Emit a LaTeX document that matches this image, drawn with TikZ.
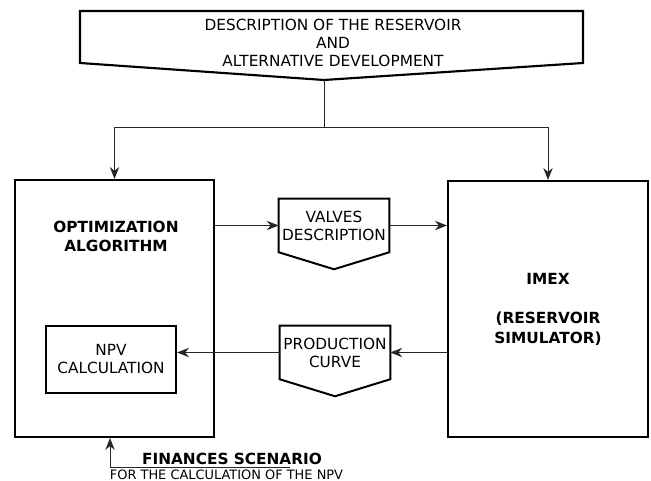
\documentclass[tikz,border=0pt]{standalone}
\usepackage{fontspec}
\setmainfont{DejaVu Sans}
\usetikzlibrary{arrows.meta,positioning,calc}

\begin{document}
\begin{tikzpicture}[
  x=0.75pt, y=-0.75pt,
  font=\fontsize{11.5}{13.5}\selectfont,
  box/.style={draw, line width=1.5pt, inner sep=0pt, align=center},
  txt/.style={align=center, inner sep=0pt},
  bold/.style={txt, font=\fontsize{11.5}{14.3}\selectfont\bfseries},
  link/.style={line width=0.75pt, black!85},
  arr/.style={link, -{Stealth[length=9pt,width=7pt]}}
]
\useasboundingbox (0,0) rectangle (651,481);

% banner on top
\draw[line width=1.6pt, line join=miter] (80,11) -- (583,11) -- (583,63) -- (324,80) -- (80,63) -- cycle;
\coordinate (tip) at (324,80);
\coordinate (split) at (324,128);
\node[txt] (desc) at (333,43) {DESCRIPTION OF THE RESERVOIR\\AND\\ALTERNATIVE DEVELOPMENT};

% main blocks
\node[box, minimum width=149.25pt, minimum height=192.75pt] (opt) at (114.5,308.5) {};
\node[bold] (optlbl) at (116,236) {OPTIMIZATION\\ALGORITHM};
\node[box, minimum width=97.5pt, minimum height=50.25pt] (npv) at (111,359.5) {NPV\\CALCULATION};
\node[box, font=\fontsize{11.5}{14.6}\selectfont\bfseries, minimum width=150pt, minimum height=192pt] (imex) at (548,309) {IMEX\\[15pt](RESERVOIR\\SIMULATOR)};

% data in between
\node[txt, minimum width=82.5pt, minimum height=39.75pt] (valves) at (334,225.5) {VALVES\\DESCRIPTION};
\draw[line width=1.5pt] (valves.north west) -- (valves.north east) -- (valves.south east) -- ($(valves.south)+(0,17)$) -- (valves.south west) -- cycle;
\node[txt, minimum width=82.5pt, minimum height=39.75pt] (prod) at (335,352.5) {PRODUCTION\\CURVE};
\draw[line width=1.5pt] (prod.north west) -- (prod.north east) -- (prod.south east) -- ($(prod.south)+(0,17)$) -- (prod.south west) -- cycle;

% finances
\node[txt, font=\fontsize{11.5}{14}\selectfont\bfseries] (fin) at (232,459) {FINANCES SCENARIO};
\node[txt, font=\fontsize{9.7}{12}\selectfont] (forcalc) at (226.5,474.5) {FOR THE CALCULATION OF THE NPV};
\coordinate (finstart) at (110,468);
\coordinate (finend) at (290,468);

% connectors
\draw[link] (tip) -- (split);
\draw[arr] (split) -| (opt.north);
\draw[arr] (split) -| (imex.north);
\draw[arr] (opt.east |- valves.west) -- (valves.west);
\draw[arr] (valves.east) -- (valves.east -| imex.west);
\draw[arr] (prod.east -| imex.west) -- (prod.east);
\draw[arr] (prod.west) -- (prod.west -| npv.east);
\draw[arr] (finend) -- (finstart) -- (finstart |- opt.south);
\end{tikzpicture}
\end{document}
